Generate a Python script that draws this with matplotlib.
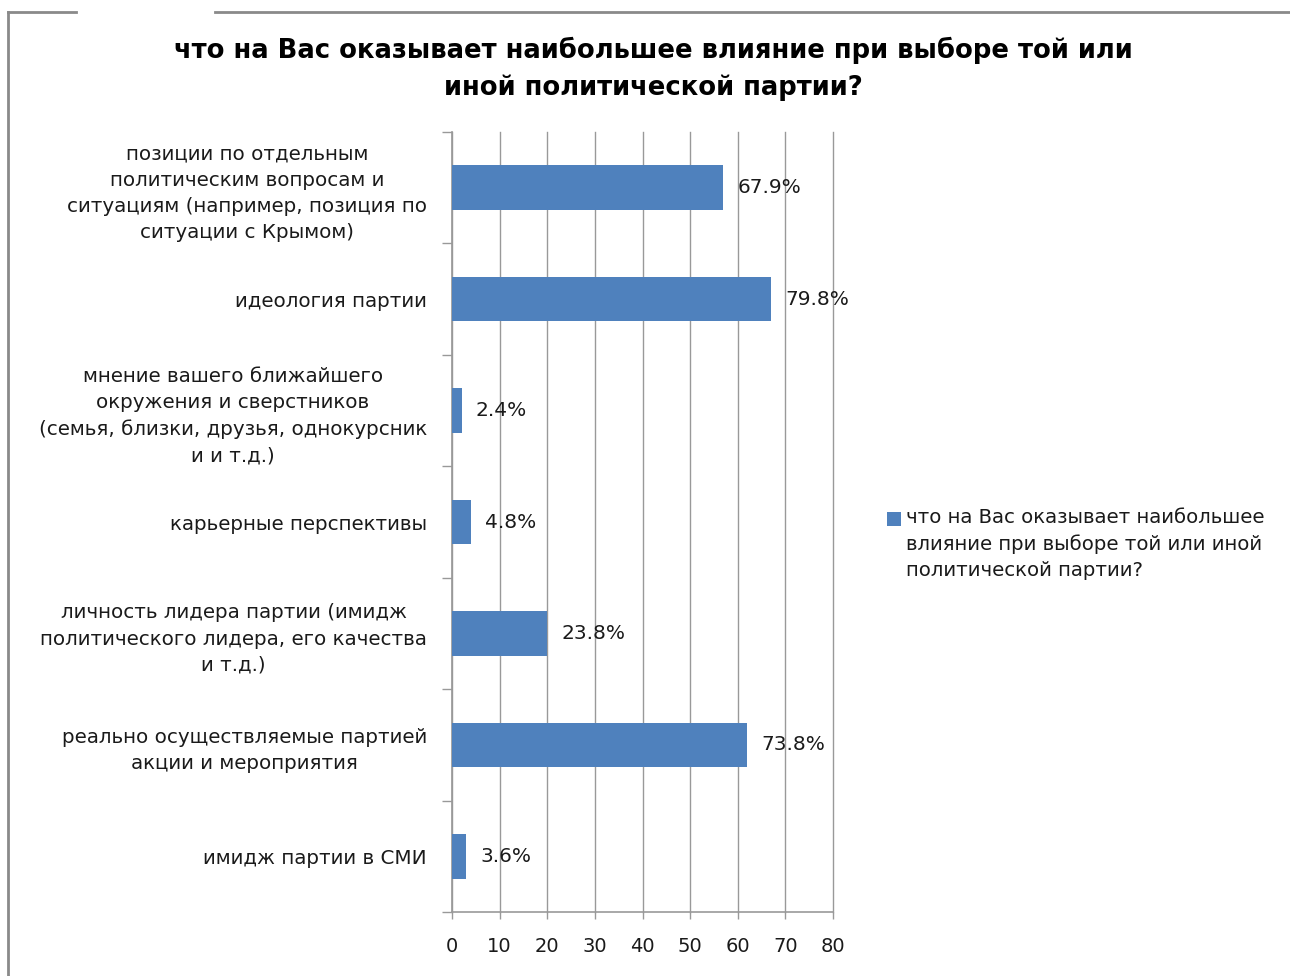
import matplotlib
matplotlib.use("Agg")
import matplotlib.pyplot as plt
from matplotlib.lines import Line2D
from matplotlib.patches import Rectangle
import numpy as np

plt.rcParams['font.family'] = ['DejaVu Sans']

# Survey answers (top to bottom), respondent counts and sample size
categories = [
    "позиции по отдельным\nполитическим вопросам и\nситуациям (например, позиция по\nситуации с Крымом)",
    "идеология партии",
    "мнение вашего ближайшего\nокружения и сверстников\n(семья, близки, друзья, однокурсник\nи и т.д.)",
    "карьерные перспективы",
    "личность лидера партии (имидж\nполитического лидера, его качества\nи т.д.)",
    "реально осуществляемые партией\nакции и мероприятия",
    "имидж партии в СМИ",
]
counts = [57, 67, 2, 4, 20, 62, 3]
total_respondents = 84
x_ticks = [0, 10, 20, 30, 40, 50, 60, 70, 80]

title = "что на Вас оказывает наибольшее влияние при выборе той или\nиной политической партии?"
series_name = "что на Вас оказывает наибольшее\nвлияние при выборе той или иной\nполитической партии?"

bar_color = "#4F81BD"
text_color = "#1a1a1a"
grid_color = "#999999"

W, H = 1290, 976
fig = plt.figure(figsize=(W / 100, H / 100), dpi=100)
fig.patch.set_facecolor("white")

ax = fig.add_axes([452 / W, 1 - 912 / H, (833 - 452) / W, (912 - 132) / H])

y = np.arange(len(categories))
ax.barh(y, counts, height=0.4, color=bar_color, zorder=3)

for yi, c in zip(y, counts):
    pct = c / total_respondents * 100
    ax.text(c + 3, yi, f"{pct:.1f}%", va="center", ha="left",
            fontsize=14.5, color=text_color, zorder=4)

ax.set_xlim(0, 80)
ax.set_ylim(len(categories) - 0.5, -0.5)
ax.set_xticks(x_ticks)
ax.set_xticklabels([str(t) for t in x_ticks], fontsize=14, color=text_color)
ax.xaxis.grid(True, color=grid_color, linewidth=1.0, zorder=0)
for gl in ax.get_xgridlines():
    gl.set_clip_on(False)
ax.tick_params(axis="x", length=5, width=1.0, color=grid_color, pad=13)

ax.set_yticks(y)
ax.set_yticklabels(categories, fontsize=14.3, color=text_color,
                   multialignment="center", linespacing=1.48)
ax.tick_params(axis="y", which="major", length=0, pad=18)
ax.set_yticks(np.arange(len(categories) + 1) - 0.5, minor=True)
ax.tick_params(axis="y", which="minor", length=7, width=1.0, color=grid_color)

for side in ("top", "right"):
    ax.spines[side].set_visible(False)
ax.spines["left"].set_color(grid_color)
ax.spines["bottom"].set_color(grid_color)
ax.spines["left"].set_linewidth(1.2)
ax.spines["bottom"].set_linewidth(1.2)

fig.text(653 / W, 1 - 69 / H, title, ha="center", va="center",
         fontsize=18.6, fontweight="bold", color="black", linespacing=1.55)

# legend: small square swatch plus wrapped series name
fig.patches.append(Rectangle((887 / W, 1 - 526 / H), 14 / W, 14 / H,
                             transform=fig.transFigure, facecolor=bar_color,
                             edgecolor="none"))
fig.text(906 / W, 1 - 508 / H, series_name, ha="left", va="top",
         fontsize=14.2, color=text_color, linespacing=1.48)

# chart frame (top edge broken on the left)
frame_kw = dict(transform=fig.transFigure, color="#8a8a8a", linewidth=2.0)
fig.lines.append(Line2D([8 / W, 8 / W], [1 - 12 / H, 0], **frame_kw))
fig.lines.append(Line2D([8 / W, 76 / W], [1 - 12 / H, 1 - 12 / H], **frame_kw))
fig.lines.append(Line2D([215 / W, 1], [1 - 12 / H, 1 - 12 / H], **frame_kw))

fig.savefig("out.png", dpi=100)
